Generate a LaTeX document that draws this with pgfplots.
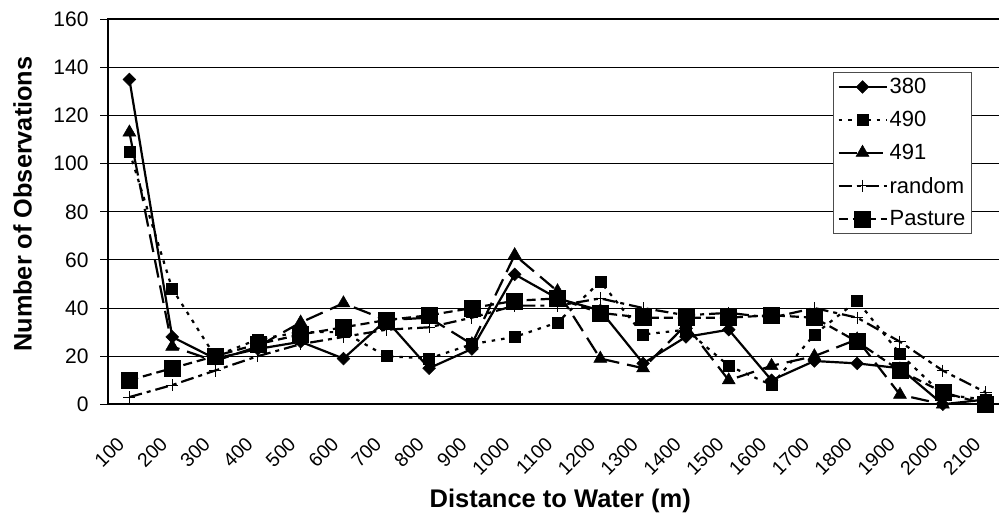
\documentclass[border=0pt]{standalone}
\usepackage{fontspec}
\setmainfont{Liberation Sans}
\usepackage{pgfplots}
\pgfplotsset{compat=1.18}
\begin{document}
\begin{tikzpicture}[x=1pt,y=1pt]
\begin{axis}[
  at={(108pt,110.7pt)}, anchor=south west,
  scale only axis, width=899pt, height=385pt,
  xmin=0.5, xmax=21.5, ymin=0, ymax=160,
  axis line style={line width=2pt},
  ytick={0,20,...,160},
  ymajorgrids, grid style={black, line width=1pt},
  xtick={1,...,21},
  xticklabels={100,200,300,400,500,600,700,800,900,1000,1100,1200,1300,1400,1500,1600,1700,1800,1900,2000,2100},
  minor xtick={0.5,1.5,...,21.5},
  xtick pos=bottom, ytick pos=left,
  tick align=outside,
  x tick style={draw=none},
  minor x tick style={black, line width=1pt},
  y tick style={black, line width=1pt},
  major tick length=8pt, minor tick length=8pt,
  /pgf/number format/assume math mode=true,
  yticklabel style={font=\fontsize{21}{24}\selectfont, anchor=east, xshift=-8pt},
  xticklabel style={font=\fontsize{19.5}{22}\selectfont, xshift=-6pt, yshift=-26pt, rotate=45, anchor=east},
  xlabel={Distance to Water (m)},
  ylabel={Number of Observations},
  xlabel style={at={(axis description cs:0.503,-0.2668)}, anchor=base, font=\bfseries\fontsize{25.5}{29}\selectfont},
  ylabel style={at={(axis description cs:-0.0951,0.52)}, anchor=center, font=\bfseries\fontsize{25.3}{29}\selectfont},
  legend style={at={(axis description cs:0.961,0.863)}, anchor=north east, draw=black!70, line width=1pt,
    font=\fontsize{22}{25}\selectfont, row sep=12pt, inner sep=4pt,
    /tikz/every even column/.append style={column sep=8pt}},
  legend cell align=left,
  legend image code/.code={\draw[mark repeat=2,mark phase=2] plot coordinates {(0pt,0pt) (24pt,0pt) (48pt,0pt)};},
  every axis plot/.append style={line width=2.2pt, black},
]
% 380
\addplot[solid, mark=square*, mark size=4.5pt, mark options={solid, rotate=45, line width=0.5pt}] coordinates {
(1,135) (2,28) (3,19) (4,23) (5,26) (6,19) (7,35) (8,15) (9,23) (10,54) (11,44)
(12,39) (13,17) (14,28) (15,31) (16,10) (17,18) (18,17) (19,15) (20,0) (21,2)};
\addlegendentry{380}
% 490
\addplot[dash pattern=on 3.5pt off 6pt, mark=square*, mark size=5.5pt, mark options={solid, line width=0.5pt}] coordinates {
(1,105) (2,48) (3,20) (4,27) (5,30) (6,30) (7,20) (8,19) (9,25) (10,28) (11,34)
(12,51) (13,29) (14,31) (15,16) (16,8) (17,29) (18,43) (19,21) (20,4) (21,2)};
\addlegendentry{490}
% 491
\addplot[dash pattern=on 18pt off 8pt, mark=triangle*, mark size=7.5pt, mark options={solid, line width=0.5pt}] coordinates {
(1,113) (2,24) (3,18) (4,24) (5,34) (6,42) (7,35) (8,36) (9,25) (10,62) (11,47)
(12,19) (13,15) (14,33) (15,10) (16,16) (17,20) (18,27) (19,4) (20,0) (21,0)};
\addlegendentry{491}
% random
\addplot[dash pattern=on 13pt off 5pt on 4pt off 5pt, mark=+, mark size=6pt, mark options={solid, line width=1pt}] coordinates {
(1,3) (2,8) (3,14) (4,20) (5,25) (6,28) (7,31) (8,32) (9,36) (10,41) (11,41)
(12,44) (13,40) (14,37) (15,38) (16,36) (17,40) (18,36) (19,26) (20,14) (21,5)};
\addlegendentry{random}
% Pasture
\addplot[dash pattern=on 9pt off 5pt, mark=square*, mark size=8pt, mark options={solid, line width=0.5pt}] coordinates {
(1,10) (2,15) (3,20) (4,25) (5,29) (6,32) (7,35) (8,37) (9,40) (10,43) (11,44)
(12,38) (13,36) (14,36) (15,36) (16,37) (17,36) (18,26) (19,14) (20,5) (21,0)};
\addlegendentry{Pasture}
\end{axis}
\pgfresetboundingbox
\useasboundingbox (0,0) rectangle (999,515);
\end{tikzpicture}
\end{document}
